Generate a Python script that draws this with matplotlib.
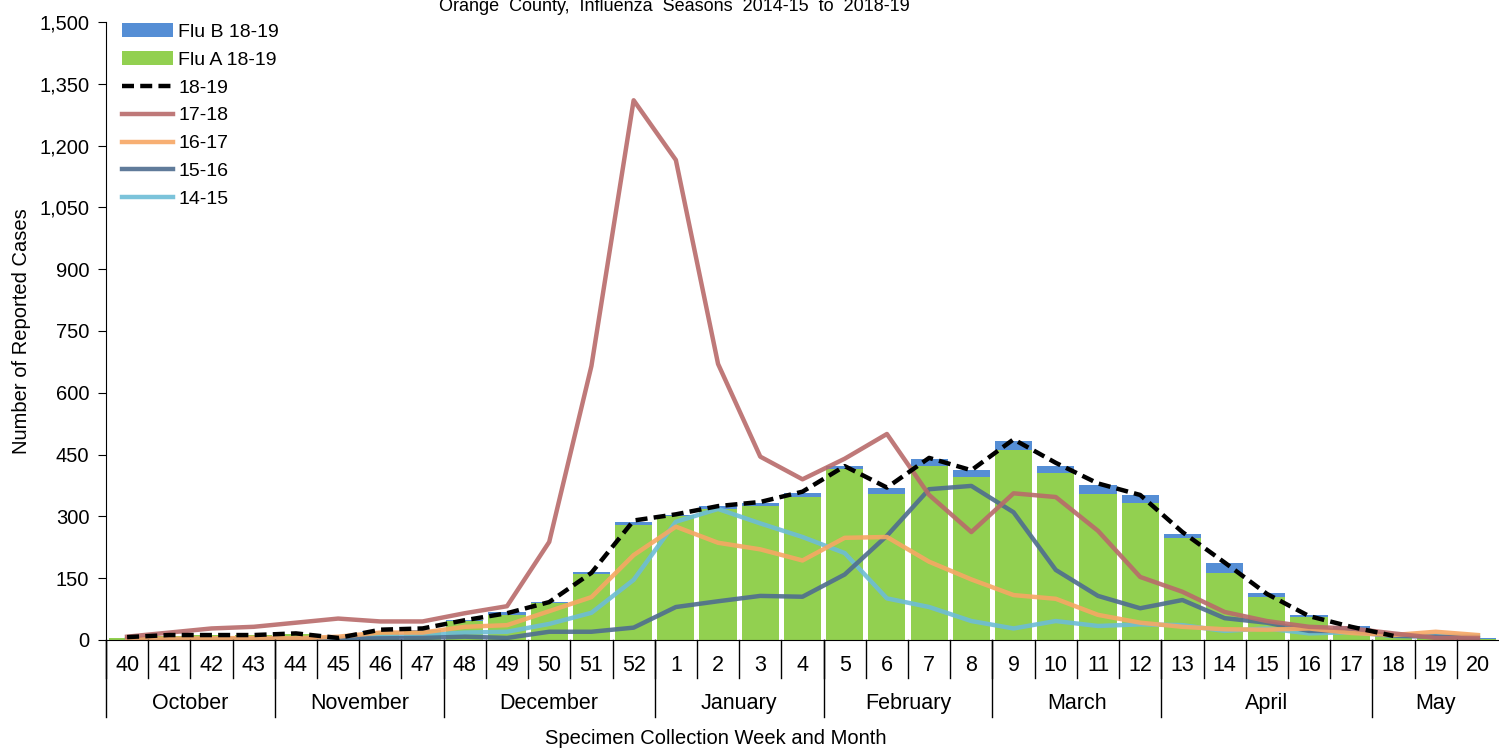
import numpy as np
import matplotlib
matplotlib.use('Agg')
import matplotlib.pyplot as plt
from matplotlib.ticker import FuncFormatter

plt.rcParams['font.family'] = ['Liberation Sans', 'DejaVu Sans']

# data
weeks = [40, 41, 42, 43, 44, 45, 46, 47, 48, 49, 50, 51, 52,
         1, 2, 3, 4, 5, 6, 7, 8, 9, 10, 11, 12, 13, 14, 15, 16, 17, 18, 19, 20]
months = ['October', 'November', 'December', 'January', 'February',
          'March', 'April', 'May']
month_weeks = [4, 4, 5, 4, 4, 4, 5, 3]

flu_a_1819 = [4, 9, 11, 11, 14, 4, 20, 22, 45, 61, 89, 160, 279,
              300, 318, 326, 347, 415, 355, 422, 396, 461, 405, 355, 333,
              247, 162, 104, 56, 24, 8, 4, 3]
flu_b_1819 = [1, 1, 1, 1, 1, 1, 2, 3, 3, 7, 3, 5, 7,
              4, 7, 6, 10, 7, 14, 17, 16, 22, 17, 21, 19,
              10, 25, 10, 5, 10, 4, 2, 3]
s1819 = [7, 12, 12, 12, 16, 5, 25, 28, 48, 65, 92, 163, 290,
         305, 325, 335, 360, 422, 370, 442, 412, 487, 430, 380, 352,
         262, 188, 112, 58, 32, 10, np.nan, np.nan]
s1718 = [8, 18, 28, 32, 42, 52, 45, 45, 65, 82, 238, 665, 1310,
         1165, 670, 445, 390, 440, 500, 352, 262, 356, 347, 265, 153,
         117, 68, 46, 32, 28, 16, 5, 5]
s1617 = [3, 3, 4, 5, 4, 8, 18, 18, 32, 36, 70, 104, 206,
         275, 236, 220, 193, 248, 250, 190, 147, 109, 100, 61, 42,
         32, 26, 25, 28, 17, 12, 20, 12]
s1516 = [2, 2, 2, 2, 2, 3, 4, 5, 8, 5, 20, 20, 30,
         80, 94, 107, 105, 159, 253, 366, 374, 310, 170, 107, 77,
         97, 53, 42, 22, 22, 10, 8, 5]
s1415 = [2, 2, 2, 3, 3, 5, 8, 12, 18, 20, 39, 66, 146,
         287, 318, 283, 250, 211, 101, 80, 46, 28, 46, 34, 38,
         36, 22, 28, 16, 19, 10, 10, 10]

x = np.arange(len(weeks))

fig = plt.figure(figsize=(14.99, 7.48), dpi=100)
ax = fig.add_axes([0.0707, 0.1444, 0.9293, 0.8262])

ax.bar(x, flu_a_1819, width=0.88, color='#92D050', label='Flu A 18-19', zorder=1)
ax.bar(x, flu_b_1819, width=0.88, bottom=flu_a_1819, color='#558ED5',
       label='Flu B 18-19', zorder=1)

lw = 3.2
ax.plot(x, s1415, color='#6DBDD6', lw=lw, alpha=0.9, label='14-15', zorder=2)
ax.plot(x, s1516, color='#4F6D8F', lw=lw, alpha=0.9, label='15-16', zorder=2)
ax.plot(x, s1617, color='#F7A764', lw=lw, alpha=0.9, label='16-17', zorder=2)
ax.plot(x, s1718, color='#B86B6A', lw=lw, alpha=0.9, label='17-18', zorder=2)
ax.plot(x, s1819, color='black', lw=3.2, ls=(0, (2.7, 1.4)), label='18-19', zorder=3)

ax.set_xlim(-0.5, len(weeks) - 0.5)
ax.set_ylim(0, 1500)
ax.set_yticks(np.arange(0, 1501, 150))
ax.yaxis.set_major_formatter(FuncFormatter(lambda v, p: f'{int(v):,}'))
ax.tick_params(axis='y', labelsize=14.5, length=6, pad=6, direction='out')
ax.set_xticks([])
for s in ['top', 'right']:
    ax.spines[s].set_visible(False)
ax.set_ylabel('Number of Reported Cases', fontsize=14.5, labelpad=6)

# two-level x axis
tr = ax.get_xaxis_transform()
for i, w in enumerate(weeks):
    ax.text(i, -0.041, str(w), transform=tr, ha='center', va='center', fontsize=15.5)
    ax.plot([i - 0.5, i - 0.5], [0, -0.0615], transform=tr, color='black',
            lw=1, clip_on=False)
start = 0
for m, n in zip(months, month_weeks):
    ax.plot([start - 0.5, start - 0.5], [0, -0.1246], transform=tr,
            color='black', lw=1, clip_on=False)
    ax.text(start + n / 2 - 0.5, -0.102, m, transform=tr, ha='center',
            va='center', fontsize=15.5)
    start += n
ax.text(0.438, -0.16, 'Specimen Collection Week and Month', transform=ax.transAxes,
        ha='center', va='center', fontsize=14.5)

fig.text(0.45, 0.991, 'Orange  County,  Influenza  Seasons  2014-15  to  2018-19',
         ha='center', va='center', fontsize=13)

handles, labels = ax.get_legend_handles_labels()
order = ['Flu B 18-19', 'Flu A 18-19', '18-19', '17-18', '16-17', '15-16', '14-15']
hmap = dict(zip(labels, handles))
ax.legend([hmap[k] for k in order], order, loc='upper left',
          bbox_to_anchor=(0.0045, 1.014), frameon=False, fontsize=14,
          handlelength=2.6, handletextpad=0.3, labelspacing=0.53,
          borderaxespad=0.1)

fig.savefig('out.png', dpi=100)
